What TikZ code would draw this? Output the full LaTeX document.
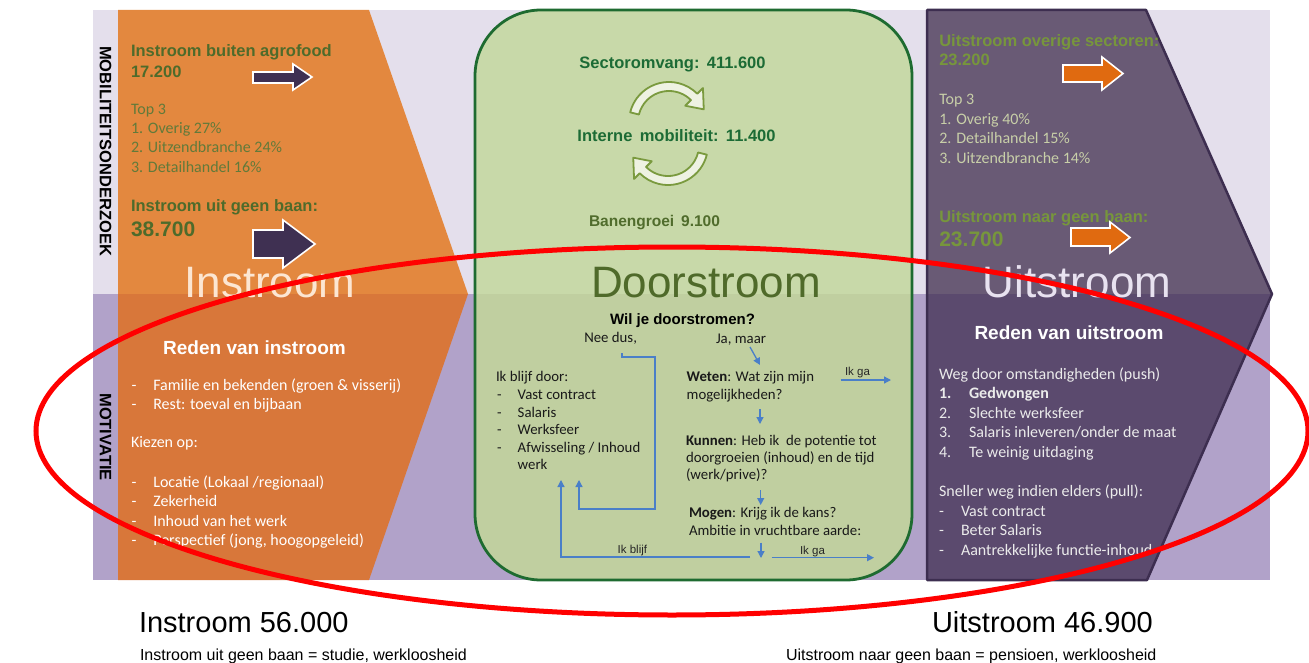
\documentclass[tikz,border=0pt]{standalone}
\usepackage{fontspec}
\setmainfont{Liberation Sans}
\newfontfamily\calib{Carlito}
\usetikzlibrary{arrows.meta}
\definecolor{bgtop}{HTML}{E4DFEC}
\definecolor{bgbot}{HTML}{B1A2C9}
\definecolor{ortop}{HTML}{E3883F}
\definecolor{orbot}{HTML}{D8773A}
\definecolor{grtop}{HTML}{C8D9A9}
\definecolor{grbot}{HTML}{C0CFA0}
\definecolor{gredge}{HTML}{1E6B30}
\definecolor{putop}{HTML}{695A75}
\definecolor{pubot}{HTML}{5B4A6E}
\definecolor{puedge}{HTML}{3D2E50}
\definecolor{dkgreen}{HTML}{1C6B35}
\definecolor{olivedk}{HTML}{4E6B2B}
\definecolor{olivelt}{HTML}{617A3A}
\definecolor{olivepu}{HTML}{77963C}
\definecolor{sagelt}{HTML}{C8CFA8}
\definecolor{arpu}{HTML}{3F3052}
\definecolor{aror}{HTML}{E06A10}
\definecolor{bluec}{HTML}{4A7FC8}
\definecolor{doortxt}{HTML}{4F6A2A}
\definecolor{intxt}{HTML}{FCE6D2}
\definecolor{uittxt}{HTML}{E8E2F0}
\definecolor{carlight}{HTML}{EEF2E2}
\definecolor{carolive}{HTML}{7A9A3E}
\definecolor{banen}{HTML}{506C2C}
\newcommand\myfs[1]{\fontsize{#1}{#1}\selectfont}
\begin{document}
\begin{tikzpicture}[x=1pt,y=-1pt,
  tl/.style={anchor=base west, inner sep=0, outer sep=0},
  tc/.style={anchor=base, inner sep=0, outer sep=0},
  blockarrow/.style={draw=white, line width=1.6, line join=miter},
  barrow/.style={draw=bluec, line width=1.3, -{Triangle[length=7pt,width=7pt]}},
  bline/.style={draw=bluec, line width=1.3},
  circarrow/.style={fill=carlight, draw=carolive, line width=1.8, line join=round}]
\useasboundingbox (0,0) rectangle (1309,663);
\fill[white] (0,0) rectangle (1309,663);
% background bands
\fill[bgtop] (93,10) rectangle (1270,294);
\fill[bgbot] (93,294) rectangle (1270,580);
% orange chevron
\begin{scope}
\clip (0,0) rectangle (1309,294);
\fill[ortop] (118,10) -- (369,10) -- (468,294) -- (369,580) -- (118,580) -- cycle;
\fill[grtop, rounded corners=66] (475,10) rectangle (912,580);
\fill[putop] (927,10) -- (1146,10) -- (1272,294) -- (1147,580) -- (927,580) -- cycle;
\end{scope}
\begin{scope}
\clip (0,294) rectangle (1309,663);
\fill[orbot] (118,10) -- (369,10) -- (468,294) -- (369,580) -- (118,580) -- cycle;
\fill[grbot, rounded corners=66] (475,10) rectangle (912,580);
\fill[pubot] (927,10) -- (1146,10) -- (1272,294) -- (1147,580) -- (927,580) -- cycle;
\end{scope}
\draw[gredge, line width=2.8, rounded corners=66] (475,10) rectangle (912,580);
\draw[puedge, line width=2.5, line join=round] (927,10) -- (1146,10) -- (1272,294) -- (1147,580) -- (927,580) -- cycle;

% side labels
\node[rotate=-90, font=\bfseries\myfs{16.5}, inner sep=0] (mob) at (105.5,151) {MOBILITEITSONDERZOEK};
\node[rotate=-90, font=\bfseries\myfs{16.5}, inner sep=0] (mot) at (105.5,437) {MOTIVATIE};

% big titles
\node[tc, font=\myfs{44}, text=intxt] (tin) at (270,297) {Instroom};
\node[tc, font=\myfs{44}, text=doortxt] (tdoor) at (706,297) {Doorstroom};
\node[tc, font=\myfs{44}, text=uittxt] (tuit) at (1077,297) {Uitstroom};

% ---- Instroom top
\node[tl, font=\bfseries\myfs{16.5}, text=olivedk] (inb1) at (131,56.7) {Instroom buiten agrofood};
\node[tl, font=\bfseries\myfs{16.5}, text=olivedk] (inb2) at (131,77.3) {17.200};
\node[tl, font=\calib\myfs{16}, text=olivelt] (int0) at (131,114.3) {Top 3};
\node[tl, font=\calib\myfs{16}, text=olivelt] (int1) at (131,133.6) {1. Overig 27\%};
\node[tl, font=\calib\myfs{16}, text=olivelt] (int2) at (131,153) {2. Uitzendbranche 24\%};
\node[tl, font=\calib\myfs{16}, text=olivelt] (int3) at (131,172.3) {3. Detailhandel 16\%};
\node[tl, font=\bfseries\myfs{16.5}, text=olivedk] (ing1) at (131,211.7) {Instroom uit geen baan:};
\node[tl, font=\bfseries\myfs{21}, text=olivedk] (ing2) at (131,236.7) {38.700};
\filldraw[blockarrow, fill=arpu] (253,72) -- (293,72) -- (293,64) -- (312,77) -- (293,90) -- (293,83) -- (253,83) -- cycle;
\filldraw[blockarrow, fill=arpu] (253,230) -- (283,230) -- (283,220) -- (315,244) -- (283,268) -- (283,258) -- (253,258) -- cycle;

% ---- Instroom bottom
\node[tc, font=\bfseries\myfs{19}, text=white] (rin) at (254.5,354) {Reden van instroom};
\begin{scope}[every node/.style={tl, font=\calib\myfs{16}, text=white}]
\node (d1) at (131.7,390) {-}; \node (l1) at (153.3,390) {Familie en bekenden (groen \& visserij)};
\node (d2) at (131.7,409.5) {-}; \node (l2) at (153.3,409.5) {Rest: toeval en bijbaan};
\node (k0) at (131,447.7) {Kiezen op:};
\node (d3) at (131.7,487.3) {-}; \node (l3) at (153.3,487.3) {Locatie (Lokaal /regionaal)};
\node (d4) at (131.7,506.7) {-}; \node (l4) at (153.3,506.7) {Zekerheid};
\node (d5) at (131.7,526) {-}; \node (l5) at (153.3,526) {Inhoud van het werk};
\node (d6) at (131.7,545.7) {-}; \node (l6) at (153.3,545.7) {Perspectief (jong, hoogopgeleid)};
\end{scope}

% ---- Doorstroom top
\node[tc, font=\bfseries\myfs{16.5}, text=dkgreen] (sec) at (672.5,68.3) {Sectoromvang:\ \,411.600};
\node[tc, font=\bfseries\myfs{16.5}, text=dkgreen] (imob) at (676.5,141.7) {Interne\ \,mobiliteit:\ \,11.400};
\node[tl, font=\bfseries\myfs{15.5}, text=banen] (ban) at (589,226.7) {Banengroei\ \,9.100};
\begin{scope}[shift={(669,122)}]
\filldraw[circarrow] (194:40) arc[start angle=194, end angle=315, radius=40] -- (315:48) -- (340:37) -- (315:23) -- (315:31) arc[start angle=315, end angle=194, radius=31] -- cycle;
\end{scope}
\begin{scope}[shift={(668,145)}]
\filldraw[circarrow] (14:40) arc[start angle=14, end angle=135, radius=40] -- (135:48) -- (160:37) -- (135:23) -- (135:31) arc[start angle=135, end angle=14, radius=31] -- cycle;
\end{scope}

% ---- Doorstroom bottom
\node[tc, font=\bfseries\myfs{15}, text=black] (wil) at (682.5,324.3) {Wil je doorstromen?};
\begin{scope}[every node/.style={tl, font=\calib\myfs{14.8}, text=black!90}]
\node (nee) at (584.3,342.7) {Nee dus,};
\node (ja) at (716,343) {Ja, maar};
\node (ikb) at (496,381.7) {Ik blijf door:};
\node at (497,399.3) {-}; \node (b1) at (517.7,399.3) {Vast contract};
\node at (497,417) {-}; \node (b2) at (517.7,417) {Salaris};
\node at (497,434.3) {-}; \node (b3) at (517.7,434.3) {Werksfeer};
\node at (497,452) {-}; \node (b4) at (517.7,452) {Afwisseling / Inhoud};
\node (b5) at (517.7,469.3) {werk};
\node (wet1) at (686.7,381.7) {\textbf{Weten}: Wat zijn mijn};
\node (wet2) at (686.7,399.3) {mogelijkheden?};
\node (kun1) at (686,445.3) {\textbf{Kunnen}: Heb ik~ de potentie tot};
\node (kun2) at (686,462.3) {doorgroeien (inhoud) en de tijd};
\node (kun3) at (686,479.7) {(werk/prive)?};
\node (mog1) at (689,517.7) {\textbf{Mogen}: Krijg ik de kans?};
\node (mog2) at (689,535) {Ambitie in vruchtbare aarde:};
\end{scope}
\begin{scope}[every node/.style={tl, font=\myfs{11.5}, text=black!85}]
\node (ga1) at (845,375) {Ik ga};
\node (blijf) at (617.7,553.3) {Ik blijf};
\node (ga2) at (800,554) {Ik ga};
\end{scope}
% connector coordinates
\coordinate (neeA) at (622,353);
\coordinate (neeB) at (622,357);
\coordinate (neeC) at (655,357);
\coordinate (neeD) at (655,509);
\coordinate (neeE) at (579,509);
\coordinate (neeF) at (579,480);
\coordinate (jaA) at (750,347);
\coordinate (jaB) at (760,365);
\coordinate (ga1A) at (840.7,380);
\coordinate (ga1B) at (891,380);
\coordinate (w2k1) at (760,409);
\coordinate (w2k2) at (760,424);
\coordinate (k2m1) at (760.7,490);
\coordinate (k2m2) at (760.7,505);
\coordinate (m2e1) at (761,542.7);
\coordinate (m2e2) at (761,558);
\coordinate (blA) at (750,557);
\coordinate (blB) at (561,557);
\coordinate (blC) at (561,480);
\coordinate (ga2A) at (771.7,557.7);
\coordinate (ga2B) at (874,557.7);
\draw[barrow] (neeA) -- (neeB) -- (neeC) -- (neeD) -- (neeE) -- (neeF);
\draw[barrow] (jaA) -- (jaB);
\draw[barrow] (ga1A) -- (ga1B);
\draw[barrow] (w2k1) -- (w2k2);
\draw[barrow] (k2m1) -- (k2m2);
\draw[barrow] (m2e1) -- (m2e2);
\draw[barrow] (blA) -- (blB) -- (blC);
\draw[barrow] (ga2A) -- (ga2B);

% ---- Uitstroom top
\node[tl, font=\bfseries\myfs{16.5}, text=olivepu] (uo1) at (939.3,46.7) {Uitstroom overige sectoren:};
\node[tl, font=\bfseries\myfs{16.5}, text=olivepu] (uo2) at (939.3,65.7) {23.200};
\node[tl, font=\calib\myfs{16}, text=sagelt] (ut0) at (939.3,105) {Top 3};
\node[tl, font=\calib\myfs{16}, text=sagelt] (ut1) at (939.3,124.7) {1. Overig 40\%};
\node[tl, font=\calib\myfs{16}, text=sagelt] (ut2) at (939.3,144) {2. Detailhandel 15\%};
\node[tl, font=\calib\myfs{16}, text=sagelt] (ut3) at (939.3,163.3) {3. Uitzendbranche 14\%};
\node[tl, font=\bfseries\myfs{16.5}, text=olivepu] (ug1) at (939.3,222.3) {Uitstroom naar geen baan:};
\node[tl, font=\bfseries\myfs{21}, text=olivepu] (ug2) at (939.3,246.7) {23.700};
\filldraw[blockarrow, fill=aror] (1063,65) -- (1102,65) -- (1102,57) -- (1123,73.5) -- (1102,90) -- (1102,82) -- (1063,82) -- cycle;
\filldraw[blockarrow, fill=aror] (1071,228) -- (1110,228) -- (1110,222) -- (1130,237.5) -- (1110,253) -- (1110,246) -- (1071,246) -- cycle;

% ---- Uitstroom bottom
\node[tc, font=\bfseries\myfs{19}, text=white] (ruit) at (1069,339) {Reden van uitstroom};
\begin{scope}[every node/.style={tl, font=\calib\myfs{16}, text=white!92!black}]
\node (push) at (939,379.3) {Weg door omstandigheden (push)};
\node[font=\calib\bfseries\myfs{16}] at (939,398.3) {1.}; \node[font=\calib\bfseries\myfs{16}] (p1) at (969,398.3) {Gedwongen};
\node at (939,418.3) {2.}; \node (p2) at (969,418.3) {Slechte werksfeer};
\node at (939,437.7) {3.}; \node (p3) at (969,437.7) {Salaris inleveren/onder de maat};
\node at (939,457.3) {4.}; \node (p4) at (969,457.3) {Te weinig uitdaging};
\node (pull) at (939,496.7) {Sneller weg indien elders (pull):};
\node at (939,516) {-}; \node (q1) at (961,516) {Vast contract};
\node at (939,535.7) {-}; \node (q2) at (961,535.7) {Beter Salaris};
\node at (939,555) {-}; \node (q3) at (961,555) {Aantrekkelijke functie-inhoud};
\end{scope}

% ---- bottom totals
\node[tl, font=\myfs{29}] (tot1) at (139,632) {Instroom 56.000};
\node[tl, font=\myfs{29}] (tot2) at (932,632) {Uitstroom 46.900};
\node[tl, font=\myfs{16}] (ex1) at (140,660) {Instroom uit geen baan = studie, werkloosheid};
\node[tl, font=\myfs{16}] (ex2) at (786,660) {Uitstroom naar geen baan = pensioen, werkloosheid};

% red ellipse
\draw[red, line width=5] (672,431) ellipse [x radius=636, y radius=184];
\end{tikzpicture}
\end{document}
